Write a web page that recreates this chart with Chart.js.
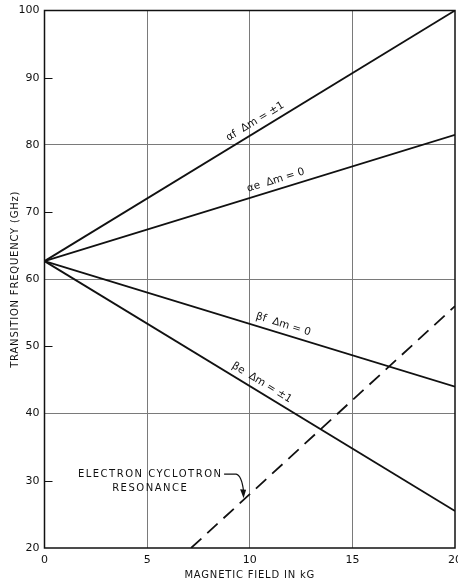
<!DOCTYPE html>
<html>
<head>
<meta charset="utf-8">
<script src="https://cdn.jsdelivr.net/npm/chart.js@4.4.0/dist/chart.umd.min.js"></script>
<style>
html,body{margin:0;padding:0;background:#fff;}
#wrap{width:458px;height:584px;position:relative;}
</style>
</head>
<body>
<div id="wrap"><canvas id="c" width="458" height="584"></canvas></div>
<script>
// ---- data ----
const fieldKG = [0, 20];
const alphaF = [62.7, 100];   // αf Δm=±1
const alphaE = [62.7, 81.5];  // αe Δm=0
const betaF  = [62.7, 44];    // βf Δm=0
const betaE  = [62.7, 25.5];  // βe Δm=±1
const ecrField = [7.14, 20];  // electron cyclotron resonance
const ecrFreq  = [20, 56];
const xTicks = [0, 5, 10, 15, 20];
const yTicks = [20, 30, 40, 50, 60, 70, 80, 90, 100];
const lineLabels = ['αf  Δm = ±1', 'αe  Δm = 0', 'βf  Δm = 0', 'βe  Δm = ±1'];
const labelAt = [10.5, 11.4, 11.5, 10.35];
const ecrText = ['ELECTRON CYCLOTRON', 'RESONANCE'];

const pts = (xs, ys) => xs.map((x, i) => ({x: x, y: ys[i]}));
const solid = (d) => ({data: d, borderColor: '#111', borderWidth: 1.8, pointRadius: 0, fill: false, tension: 0});

const datasets = [
  solid(pts(fieldKG, alphaF)),
  solid(pts(fieldKG, alphaE)),
  solid(pts(fieldKG, betaF)),
  solid(pts(fieldKG, betaE)),
  Object.assign(solid(pts(ecrField, ecrFreq)), {borderDash: [14, 8]})
];

const FONT = '"DejaVu Sans", sans-serif';

const annot = {
  id: 'annot',
  afterDatasetsDraw(chart) {
    const ctx = chart.ctx, xs = chart.scales.x, ys = chart.scales.y, ca = chart.chartArea;
    ctx.save();
    // minor inward ticks on y axis
    ctx.strokeStyle = '#111'; ctx.lineWidth = 1;
    yTicks.forEach(v => {
      if (v % 20 !== 0) {
        const py = Math.round(ys.getPixelForValue(v)) + 0.5;
        ctx.beginPath(); ctx.moveTo(ca.left, py); ctx.lineTo(ca.left + 8, py); ctx.stroke();
      }
    });
    // frame
    ctx.lineWidth = 1.5;
    ctx.strokeRect(ca.left, ca.top, ca.right - ca.left, ca.bottom - ca.top);
    // line labels
    const series = [alphaF, alphaE, betaF, betaE];
    ctx.fillStyle = '#111';
    ctx.font = '10.5px ' + FONT;
    ctx.textAlign = 'center'; ctx.textBaseline = 'bottom';
    series.forEach((s, i) => {
      const x0 = xs.getPixelForValue(fieldKG[0]), y0 = ys.getPixelForValue(s[0]);
      const x1 = xs.getPixelForValue(fieldKG[1]), y1 = ys.getPixelForValue(s[1]);
      const ang = Math.atan2(y1 - y0, x1 - x0);
      const v = labelAt[i];
      const sv = s[0] + (s[1] - s[0]) * (v - fieldKG[0]) / (fieldKG[1] - fieldKG[0]);
      ctx.save();
      ctx.translate(xs.getPixelForValue(v), ys.getPixelForValue(sv));
      ctx.rotate(ang);
      ctx.fillText(lineLabels[i], 0, -4);
      ctx.restore();
    });
    // ECR label
    ctx.font = '10px ' + FONT;
    ctx.letterSpacing = '1.5px';
    ctx.textAlign = 'center'; ctx.textBaseline = 'middle';
    const lx = xs.getPixelForValue(5.15);
    ctx.fillText(ecrText[0], lx, ys.getPixelForValue(31.0));
    ctx.fillText(ecrText[1], lx, ys.getPixelForValue(28.8));
    ctx.letterSpacing = '0px';
    // arrow
    const tipX = xs.getPixelForValue(9.7), tipY = ys.getPixelForValue(27.4);
    const sx = xs.getPixelForValue(8.75), sy = ys.getPixelForValue(31.0);
    ctx.lineWidth = 1.2;
    ctx.beginPath();
    ctx.moveTo(sx, sy);
    ctx.lineTo(sx + 12, sy);
    ctx.quadraticCurveTo(tipX - 2, sy + 1, tipX, tipY - 7);
    ctx.stroke();
    ctx.beginPath();
    ctx.moveTo(tipX, tipY);
    ctx.lineTo(tipX - 3.5, tipY - 9);
    ctx.lineTo(tipX + 2.5, tipY - 8.5);
    ctx.closePath(); ctx.fill();
    // axis titles
    ctx.font = '10px ' + FONT;
    ctx.letterSpacing = '0.8px';
    ctx.textAlign = 'center'; ctx.textBaseline = 'middle';
    ctx.fillText('MAGNETIC FIELD IN kG', (ca.left + ca.right) / 2, 575);
    ctx.save();
    ctx.translate(15, (ca.top + ca.bottom) / 2);
    ctx.rotate(-Math.PI / 2);
    ctx.fillText('TRANSITION FREQUENCY (GHz)', 0, 0);
    ctx.restore();
    ctx.letterSpacing = '0px';
    ctx.restore();
  }
};

new Chart(document.getElementById('c'), {
  type: 'line',
  data: {datasets: datasets},
  options: {
    responsive: false,
    animation: false,
    devicePixelRatio: 1,
    layout: {autoPadding: false, padding: {top: 10.5, right: 3, left: 0, bottom: 0}},
    plugins: {legend: {display: false}, tooltip: {enabled: false}},
    scales: {
      x: {
        type: 'linear', min: 0, max: 20,
        afterBuildTicks: s => { s.ticks = xTicks.map(v => ({value: v})); },
        afterFit: s => { s.height = 36; s.paddingLeft = 0; s.paddingRight = 0; },
        grid: {color: c => (c.tick && (c.tick.value === 0 || c.tick.value === 20)) ? 'transparent' : '#7a7a7a', lineWidth: 1, drawTicks: false},
        border: {display: false},
        ticks: {color: '#111', font: {family: FONT, size: 11}, padding: 6, maxRotation: 0, autoSkip: false}
      },
      y: {
        type: 'linear', min: 20, max: 100,
        afterBuildTicks: s => { s.ticks = yTicks.map(v => ({value: v})); },
        afterFit: s => { s.width = 44.5; s.paddingTop = 0; s.paddingBottom = 0; },
        grid: {color: c => (c.tick && c.tick.value % 20 === 0 && c.tick.value !== 20 && c.tick.value !== 100) ? '#7a7a7a' : 'transparent', lineWidth: 1, drawTicks: false},
        border: {display: false},
        ticks: {color: '#111', font: {family: FONT, size: 11}, padding: 5, autoSkip: false}
      }
    }
  },
  plugins: [annot]
});
</script>
</body>
</html>
